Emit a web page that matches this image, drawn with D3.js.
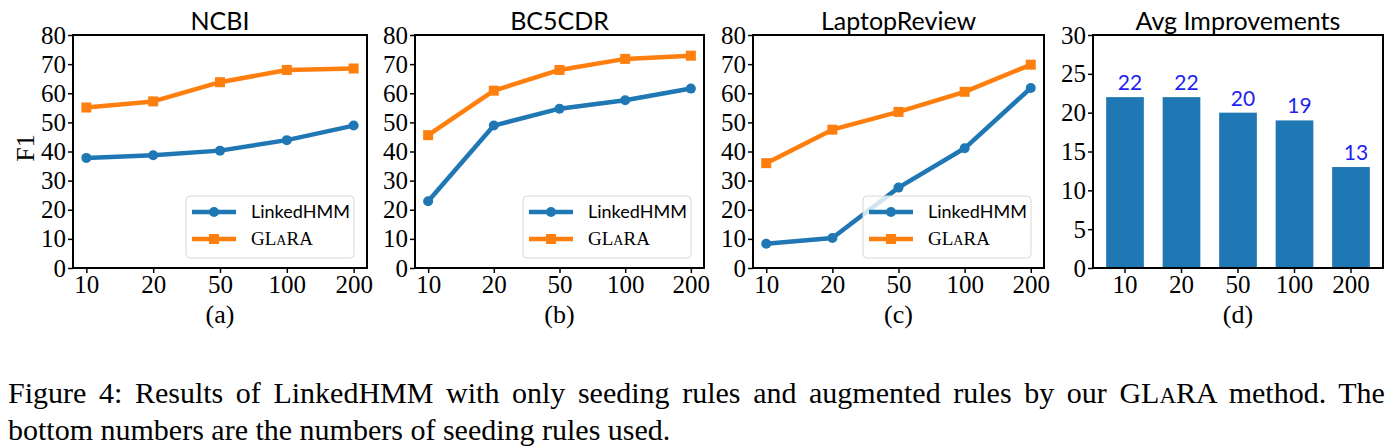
<!DOCTYPE html>
<html><head><meta charset="utf-8">
<script src="https://cdn.jsdelivr.net/npm/d3@7"></script>
<style>
html,body{margin:0;padding:0;background:#fff;}
svg{display:block;}
</style></head>
<body>
<svg id="chart" width="1398" height="448"></svg>
<script>
const categories = ["10", "20", "50", "100", "200"];
const panelTitles = ["NCBI", "BC5CDR", "LaptopReview", "Avg Improvements"];
const panelLetters = ["(a)", "(b)", "(c)", "(d)"];
const ncbiLinked = [37.8, 38.7, 40.3, 43.9, 48.9];
const ncbiGlara = [55.1, 57.2, 63.8, 68.0, 68.5];
const bcLinked = [22.9, 48.9, 54.7, 57.6, 61.6];
const bcGlara = [45.6, 60.9, 68.0, 71.8, 72.9];
const lapLinked = [8.3, 10.3, 27.6, 41.1, 61.8];
const lapGlara = [36.0, 47.5, 53.6, 60.5, 69.8];
const avgImprove = [22, 22, 20, 19, 13];
const lineTicks = [0, 10, 20, 30, 40, 50, 60, 70, 80];
const barTicks = [0, 5, 10, 15, 20, 25, 30];
const seriesNames = ["LinkedHMM", "GLARA"];

const BLUE = "#1f77b4", ORANGE = "#ff7f0e";
const SERIF = "'Liberation Serif', 'Times New Roman', serif";
const SANS = "Lato, 'Open Sans', sans-serif";

const svg = d3.select("#chart");
const plotTop = 35, plotBottom = 268;
const panels = [
  {l: 73, r: 367, type: "line", data: [ncbiLinked, ncbiGlara]},
  {l: 415, r: 704, type: "line", data: [bcLinked, bcGlara]},
  {l: 753, r: 1044, type: "line", data: [lapLinked, lapGlara]},
  {l: 1093, r: 1383, type: "bar", data: avgImprove}
];

panels.forEach((p, i) => {
  const g = svg.append("g");
  const isBar = p.type === "bar";
  const y = d3.scaleLinear().domain([0, isBar ? 30 : 80]).range([plotBottom, plotTop]);
  let x;
  if (isBar) {
    x = d3.scaleBand().domain(categories).range([p.l, p.r]).paddingInner(0.333).paddingOuter(0.233);
  } else {
    x = d3.scalePoint().domain(categories).range([p.l, p.r]).padding(0.2);
  }
  const xc = d => isBar ? x(d) + x.bandwidth() / 2 : x(d);

  if (isBar) {
    g.selectAll("rect.bar").data(p.data).join("rect")
      .attr("class", "bar")
      .attr("x", (d, k) => x(categories[k]))
      .attr("width", x.bandwidth())
      .attr("y", d => y(d))
      .attr("height", d => plotBottom - y(d))
      .attr("fill", BLUE);
    g.selectAll("text.lab").data(p.data).join("text")
      .attr("class", "lab")
      .attr("x", (d, k) => xc(categories[k]) + 5)
      .attr("y", d => y(d) - 7)
      .attr("text-anchor", "middle")
      .attr("font-family", SANS)
      .attr("font-size", 21)
      .attr("fill", "#1f1fef")
      .text(d => d);
  } else {
    const line = d3.line().x((d, k) => x(categories[k])).y(d => y(d));
    const colors = [BLUE, ORANGE];
    p.data.forEach((ser, s) => {
      g.append("path").datum(ser).attr("d", line)
        .attr("fill", "none").attr("stroke", colors[s]).attr("stroke-width", 4.5)
        .attr("stroke-linejoin", "round");
      if (s === 0) {
        g.selectAll(null).data(ser).join("circle")
          .attr("cx", (d, k) => x(categories[k])).attr("cy", d => y(d))
          .attr("r", 5).attr("fill", colors[s]);
      } else {
        g.selectAll(null).data(ser).join("rect")
          .attr("x", (d, k) => x(categories[k]) - 5).attr("y", d => y(d) - 5)
          .attr("width", 10).attr("height", 10).attr("fill", colors[s]);
      }
    });
  }

  g.append("rect").attr("x", p.l).attr("y", plotTop).attr("width", p.r - p.l).attr("height", plotBottom - plotTop)
    .attr("fill", "none").attr("stroke", "#000").attr("stroke-width", 2);

  const yAxis = d3.axisLeft(y).tickValues(isBar ? barTicks : lineTicks).tickSize(5).tickPadding(2).tickFormat(d3.format("d"));
  const ya = g.append("g").attr("transform", `translate(${p.l},0)`).call(yAxis);
  ya.select(".domain").remove();
  ya.selectAll("line").attr("stroke-width", 1.5);
  ya.selectAll("text").attr("font-family", SERIF).attr("font-size", 25).attr("fill", "#000");

  const xAxis = d3.axisBottom(x).tickSize(5).tickPadding(2);
  const xa = g.append("g").attr("transform", `translate(0,${plotBottom})`).call(xAxis);
  xa.select(".domain").remove();
  xa.selectAll("line").attr("stroke-width", 1.5);
  xa.selectAll("text").attr("font-family", SERIF).attr("font-size", 25).attr("fill", "#000");

  g.append("text").attr("x", (p.l + p.r) / 2).attr("y", 30).attr("text-anchor", "middle")
    .attr("font-family", SANS).attr("font-size", 25).text(panelTitles[i]);
  g.append("text").attr("x", (p.l + p.r) / 2).attr("y", 323).attr("text-anchor", "middle")
    .attr("font-family", SERIF).attr("font-size", 26).text(panelLetters[i]);

  if (!isBar) {
    const lg = g.append("g").attr("transform", `translate(${p.r - 181},196)`);
    lg.append("rect").attr("x", 0).attr("y", 0).attr("width", 168).attr("height", 62)
      .attr("rx", 4).attr("fill", "#fff").attr("fill-opacity", 0.8)
      .attr("stroke", "#d8d8d8").attr("stroke-width", 1);
    const cols = [BLUE, ORANGE];
    seriesNames.forEach((nm, s) => {
      const yy = 16 + s * 27;
      lg.append("line").attr("x1", 6).attr("x2", 50).attr("y1", yy).attr("y2", yy)
        .attr("stroke", cols[s]).attr("stroke-width", 4.5);
      if (s === 0) lg.append("circle").attr("cx", 28).attr("cy", yy).attr("r", 5).attr("fill", cols[s]);
      else lg.append("rect").attr("x", 23).attr("y", yy - 5).attr("width", 10).attr("height", 10).attr("fill", cols[s]);
      const t = lg.append("text").attr("x", 65).attr("y", yy + 6);
      if (s === 0) {
        t.attr("font-family", SANS).attr("font-size", 18).text(nm);
      } else {
        t.attr("font-family", SERIF).attr("font-size", 19);
        t.append("tspan").text("GL");
        t.append("tspan").attr("font-size", 14).text("A");
        t.append("tspan").text("RA");
      }
    });
  }
});

svg.append("text").attr("transform", "translate(34,148) rotate(-90)").attr("text-anchor", "middle")
  .attr("font-family", SERIF).attr("font-size", 26).text("F1");

// caption; line 1 justified to the full width with word spacing
const cap1 = svg.append("text").attr("x", 8).attr("y", 403).attr("font-family", SERIF).attr("font-size", 30);
cap1.append("tspan").text("Figure 4:  Results of LinkedHMM with only seeding rules and augmented rules by our GL");
cap1.append("tspan").attr("font-size", 23).text("A");
cap1.append("tspan").text("RA method.  The");
svg.append("text").attr("x", 8).attr("y", 440).attr("font-family", SERIF).attr("font-size", 30)
  .text("bottom numbers are the numbers of seeding rules used.");
const natural = cap1.node().getComputedTextLength();
cap1.attr("word-spacing", Math.max(0, (1382 - natural) / 17));
</script>
</body></html>
